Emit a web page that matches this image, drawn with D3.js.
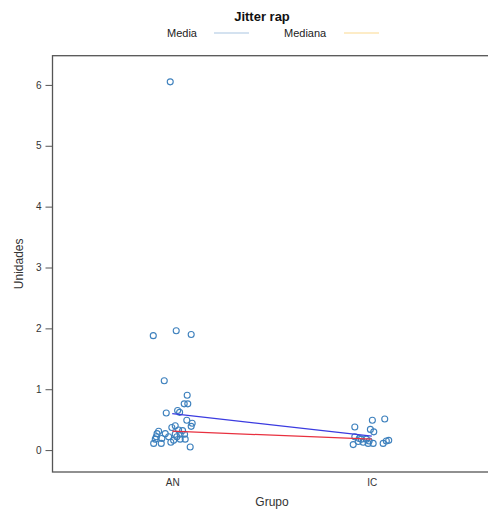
<!DOCTYPE html>
<html lang="en">
<head>
<meta charset="utf-8">
<title>Jitter rap</title>
<script src="https://d3js.org/d3.v7.min.js"></script>
<style>
    body { margin: 0; background: white; }
    svg { font-family: "Liberation Sans", Arial, sans-serif; }
</style>
</head>
<body>
<svg id="chart" width="488" height="512"></svg>
<script>

    // groups and summary lines
    var grupos = ["AN", "IC"];
    var medias = [0.60, 0.23];
    var medianas = [0.31, 0.18];

    // points: value and jitter offset (in group units)
    var anValores = [6.05, 1.88, 1.96, 1.90, 1.14, 0.90, 0.76, 0.76, 0.61, 0.65, 0.62,
        0.49, 0.44, 0.39, 0.40, 0.37, 0.27, 0.31, 0.27, 0.33, 0.32, 0.26, 0.26, 0.22,
        0.16, 0.18, 0.18, 0.11, 0.11, 0.22, 0.18, 0.26, 0.05, 0.19, 0.13, 0.22];
    var anJitter = [-0.01, -0.095, 0.02, 0.095, -0.04, 0.075, 0.06, 0.078, -0.03, 0.027, 0.037,
        0.073, 0.1, 0.095, 0.015, -0.002, -0.035, -0.068, -0.076, 0.032, 0.052, 0.04, 0.062, -0.018,
        0.007, 0.04, -0.085, -0.093, -0.055, -0.08, 0.065, 0.015, 0.09, -0.052, -0.007, 0.023];

    var icValores = [0.49, 0.51, 0.38, 0.34, 0.30, 0.22, 0.18, 0.14, 0.13, 0.11, 0.11,
        0.09, 0.18, 0.11, 0.15, 0.16, 0.15, 0.19];
    var icJitter = [0.003, 0.065, -0.085, -0.007, 0.01, -0.085, -0.052, -0.068, -0.043, -0.018, 0.007,
        -0.093, -0.027, 0.057, 0.073, 0.085, -0.013, -0.063];

    var yTicks = [0, 1, 2, 3, 4, 5, 6];

    var width = 488, height = 512;
    var margin = {left: 52.5, right: 491.5, top: 55.7, bottom: 472};

    var svg = d3.select("#chart");

    var x = d3.scalePoint().domain(grupos).range([margin.left, margin.right]).padding(0.6);
    var step = x.step();
    var y = d3.scaleLinear().domain([-0.36, 6.48]).range([margin.bottom, margin.top]);

    var puntos = [];
    anValores.forEach(function (v, i) { puntos.push({g: "AN", v: v, j: anJitter[i]}); });
    icValores.forEach(function (v, i) { puntos.push({g: "IC", v: v, j: icJitter[i]}); });

    // frame
    svg.append("rect")
        .attr("x", margin.left).attr("y", margin.top)
        .attr("width", margin.right - margin.left).attr("height", margin.bottom - margin.top)
        .attr("fill", "none").attr("stroke", "#555").attr("stroke-width", 1.3);

    // y axis
    var yAxis = d3.axisLeft(y).tickValues(yTicks).tickFormat(d3.format("d")).tickSize(7).tickPadding(4);
    var gy = svg.append("g").attr("transform", "translate(" + margin.left + ",0)").call(yAxis);
    gy.select(".domain").remove();
    gy.selectAll("line").attr("stroke", "#555");
    gy.selectAll("text").attr("fill", "#333").style("font-size", "10px");

    // x labels (no ticks)
    var xAxis = d3.axisBottom(x).tickSize(0).tickPadding(7);
    var gx = svg.append("g").attr("transform", "translate(0," + margin.bottom + ")").call(xAxis);
    gx.select(".domain").remove();
    gx.selectAll("text").attr("fill", "#333").style("font-size", "10px");

    svg.append("text").attr("x", (margin.left + margin.right) / 2).attr("y", 506)
        .attr("text-anchor", "middle").attr("fill", "#333").style("font-size", "12px").text("Grupo");

    svg.append("text").attr("transform", "translate(23," + (margin.top + margin.bottom) / 2 + ") rotate(-90)")
        .attr("text-anchor", "middle").attr("fill", "#333").style("font-size", "12px").text("Unidades");

    // points
    svg.append("g").selectAll("circle")
        .data(puntos)
        .enter().append("circle")
        .attr("cx", d => x(d.g) + d.j * step)
        .attr("cy", d => y(d.v))
        .attr("r", 3)
        .attr("fill", "none")
        .attr("stroke", "#3d80bd")
        .attr("stroke-width", 1.1);

    // mean and median lines
    var linea = d3.line().x((d, i) => x(grupos[i])).y(d => y(d));
    svg.append("path").attr("d", linea(medias)).attr("fill", "none")
        .attr("stroke", "#3b3be0").attr("stroke-width", 1.2);
    svg.append("path").attr("d", linea(medianas)).attr("fill", "none")
        .attr("stroke", "#e8303f").attr("stroke-width", 1.2);

    // title and legend
    svg.append("text").attr("x", 262).attr("y", 21).attr("text-anchor", "middle")
        .style("font-size", "13px").style("font-weight", "bold").attr("fill", "#111").text("Jitter rap");

    var leyenda = [
        {label: "Media", tx: 167, lx: 214, color: "#a9c6e2"},
        {label: "Mediana", tx: 284, lx: 344, color: "#fbd98f"}
    ];
    var lg = svg.append("g").selectAll("g").data(leyenda).enter().append("g");
    lg.append("text").attr("x", d => d.tx).attr("y", 37).attr("fill", "#222")
        .style("font-size", "11px").text(d => d.label);
    lg.append("line").attr("x1", d => d.lx).attr("x2", d => d.lx + 35)
        .attr("y1", 33).attr("y2", 33).attr("stroke", d => d.color).attr("stroke-width", 1.2);

</script>
</body>
</html>
